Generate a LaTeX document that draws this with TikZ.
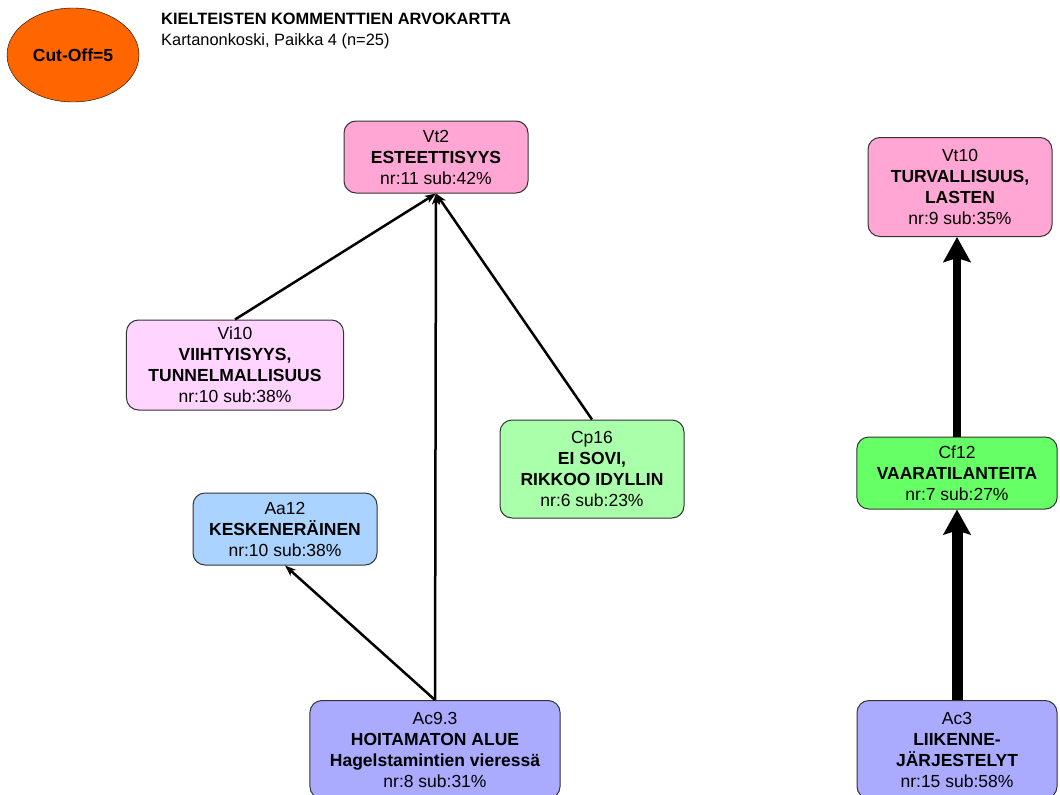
\documentclass[tikz,border=0pt]{standalone}
\usepackage{fontspec}
\setmainfont{Liberation Sans}
\usetikzlibrary{arrows.meta,shapes.geometric}
\definecolor{cutorange}{HTML}{FF6600}
\definecolor{valuepink}{HTML}{FFA6D4}
\definecolor{lightpink}{HTML}{FFD4FF}
\definecolor{lightgreen}{HTML}{AAFFAA}
\definecolor{brightgreen}{HTML}{66FF66}
\definecolor{lightblue}{HTML}{AAD4FF}
\definecolor{lavender}{HTML}{AAAAFF}

\begin{document}
\begin{tikzpicture}[x=1pt, y=-1pt,
  box/.style={draw=black!80, line width=1pt, rounded corners=12pt, align=center,
    minimum width=184pt, minimum height=72pt, inner xsep=20pt, inner ysep=4pt,
    font=\fontsize{17.5}{21}\selectfont},
  link/.style={-{Stealth[length=11pt, width=8pt, inset=3pt]}, line width=2.5pt},
  heavy/.style={-{Stealth[length=25pt, width=27pt, inset=4pt]}}]
\useasboundingbox (0,0) rectangle (1060,795);

% header
\node[ellipse, draw, fill=cutorange, minimum width=132pt, minimum height=94pt, inner sep=0pt,
  font=\fontsize{17.5}{20}\selectfont\bfseries] (cutoff) at (73,55) {Cut-Off=5};
\node[anchor=north west, align=left, inner sep=0pt, font=\fontsize{16.4}{21}\selectfont] (title) at (161,13)
  {\textbf{KIELTEISTEN KOMMENTTIEN ARVOKARTTA}\\Kartanonkoski, Paikka 4 (n=25)};

% values
\node[box, fill=valuepink] (Vt2) at (436,157) {Vt2\\\textbf{ESTEETTISYYS}\\nr:11 sub:42\%};
\node[box, fill=valuepink, minimum height=99pt] (Vt10) at (960,187) {Vt10\\\textbf{TURVALLISUUS,}\\\textbf{LASTEN}\\nr:9 sub:35\%};
\node[box, fill=lightpink, minimum height=90pt, inner xsep=22pt] (Vi10) at (235,365) {Vi10\\\textbf{VIIHTYISYYS,}\\\textbf{TUNNELMALLISUUS}\\nr:10 sub:38\%};

% consequences
\node[box, fill=lightgreen, minimum height=98pt] (Cp16) at (592,469) {Cp16\\\textbf{EI SOVI,}\\\textbf{RIKKOO IDYLLIN}\\nr:6 sub:23\%};
\node[box, fill=brightgreen] (Cf12) at (957,473) {Cf12\\\textbf{VAARATILANTEITA}\\nr:7 sub:27\%};

% attributes
\node[box, fill=lightblue, inner xsep=16pt] (Aa12) at (285,529) {Aa12\\\textbf{KESKENERÄINEN}\\nr:10 sub:38\%};
\node[box, fill=lavender, minimum height=98pt, anchor=north] (Ac93) at (435,700) {Ac9.3\\\textbf{HOITAMATON ALUE}\\\textbf{Hagelstamintien vieressä}\\nr:8 sub:31\%};
\node[box, fill=lavender, minimum width=200pt, minimum height=98pt, anchor=north] (Ac3) at (957,700) {Ac3\\\textbf{LIIKENNE-}\\\textbf{JÄRJESTELYT}\\nr:15 sub:58\%};

% links
\draw[link] (Vi10.north) -- (Vt2.south);
\draw[link] (Ac93.north) -- (Vt2.south);
\draw[link] (Cp16.north) -- (Vt2.south);
\draw[link] (Ac93.north) -- (Aa12.south);
\draw[heavy, line width=11pt] (Ac3.north) -- (Cf12.south);
\draw[heavy, line width=8pt] (Cf12.north) -- (Cf12.north |- Vt10.south);
\end{tikzpicture}
\end{document}
